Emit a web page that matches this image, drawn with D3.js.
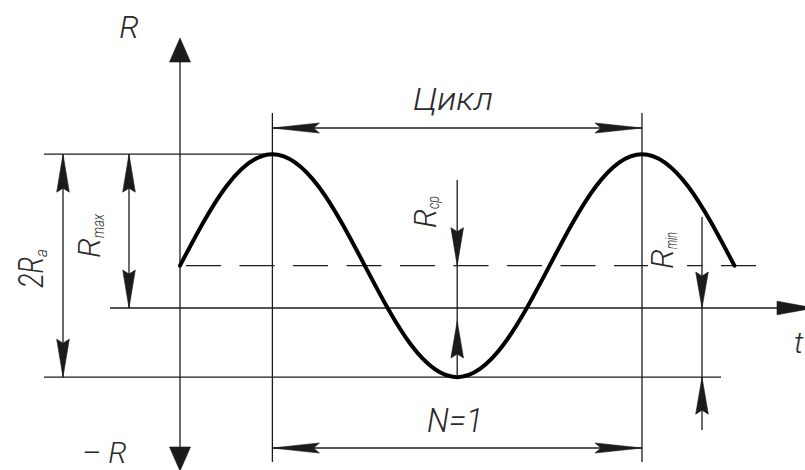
<!DOCTYPE html>
<html>
<head>
<meta charset="utf-8">
<script src="https://cdn.jsdelivr.net/npm/d3@7"></script>
<style>
  body { margin: 0; background: #fff; }
  svg { display: block; }
</style>
</head>
<body>
<script>
// Stress cycle: phase in quarter periods and stress values in units of R_a
const phases = [0, 0.5, 1, 1.5, 2, 2.5, 3, 3.5, 4, 4.5, 5, 5.5, 6];
const stress = [0.38, 1.09, 1.38, 1.09, 0.38, -0.33, -0.62, -0.33, 0.38, 1.09, 1.38, 1.09, 0.38];

// Characteristic levels of the cycle
const levelNames = ["Rmax", "Rcp", "Rmin"];
const levelValues = [1.38, 0.38, -0.62];

// Text drawn on the chart
const axisLabels = ["R", "\u2013 R", "t"];
const cycleLabel = "Цикл";
const countLabel = "N=1";

const W = 805, H = 470;
const svg = d3.select("body").append("svg").attr("width", W).attr("height", H);

const x = d3.scaleLinear().domain([0, 6]).range([180, 734.4]);
const y = d3.scaleLinear().domain([0, 1]).range([308, 196.5]);

const lv = Object.fromEntries(levelNames.map((n, i) => [n, levelValues[i]]));
const y0 = y(0), yMax = y(lv.Rmax), yMean = y(lv.Rcp), yMin = y(lv.Rmin);
const xAxis = x(0), xPeak1 = x(1), xTrough = x(3), xPeak2 = x(5);

const ink = "#1b1b1b";
const thin = 1.3;
const g = svg.append("g");

function line(x1, y1, x2, y2, extra) {
  const l = g.append("line").attr("x1", x1).attr("y1", y1).attr("x2", x2).attr("y2", y2)
    .attr("stroke", ink).attr("stroke-width", thin);
  if (extra) extra(l);
  return l;
}

// Dimension arrowhead: long dart with a shallow notch, tip at (tx,ty), pointing along (dx,dy)
function dart(tx, ty, dx, dy, L, hw, notch) {
  const px = -dy, py = dx;
  const bx = tx - dx * L, by = ty - dy * L;
  const nx = tx - dx * (L - notch), ny = ty - dy * (L - notch);
  const p = d3.path();
  p.moveTo(tx, ty);
  p.lineTo(bx + px * hw, by + py * hw);
  p.lineTo(nx, ny);
  p.lineTo(bx - px * hw, by - py * hw);
  p.closePath();
  g.append("path").attr("d", p.toString()).attr("fill", ink).attr("stroke", ink).attr("stroke-width", 0.6);
}

// Solid triangular arrowhead for the coordinate axes
function tri(tx, ty, dx, dy, L, hw) {
  dart(tx, ty, dx, dy, L, hw, 0);
}

// Coordinate axes
line(xAxis, 55, xAxis, 455);
tri(xAxis, 38, 0, -1, 24, 10.5);
tri(xAxis, 471, 0, 1, 24, 10.5);
line(110, y0, 790, y0);
tri(814, y0, 1, 0, 37, 6.8);

// Extension lines
line(44, yMax, xPeak1, yMax);
line(44, yMin, 721, yMin);
line(xPeak1, 113, xPeak1, 462);
line(xPeak2, 113, xPeak2, 462);

// Mean level (dashed)
line(xAxis, yMean, 762, yMean, l => l.attr("stroke-dasharray", "35,18.5").attr("stroke-dashoffset", 47.5));

// Clear space on the dashed line under the R_min label
g.append("rect").attr("x", 648).attr("y", yMean - 4).attr("width", 39).attr("height", 8).attr("fill", "#fff");

// 2R_a dimension
line(63, yMax, 63, yMin);
dart(63, yMax, 0, -1, 38, 6.3, 4);
dart(63, yMin, 0, 1, 38, 6.3, 4);

// R_max dimension
line(129, yMax, 129, y0);
dart(129, yMax, 0, -1, 38, 6.3, 4);
dart(129, y0, 0, 1, 38, 6.3, 4);

// Cycle dimension
const yCycle = 128;
line(xPeak1, yCycle, xPeak2, yCycle);
dart(xPeak1, yCycle, -1, 0, 47, 5, 6);
dart(xPeak2, yCycle, 1, 0, 47, 5, 6);

// N=1 dimension
const yCount = 448;
line(xPeak1, yCount, xPeak2, yCount);
dart(xPeak1, yCount, -1, 0, 47, 5, 6);
dart(xPeak2, yCount, 1, 0, 47, 5, 6);

// R_cp dimension
line(xTrough, 180, xTrough, yMin);
dart(xTrough, yMean, 0, 1, 38, 6.3, 4);
dart(xTrough, 321, 0, -1, 37, 6.3, 4);

// R_min dimension
const xRmin = 702;
line(xRmin, 217, xRmin, 430);
dart(xRmin, y0, 0, 1, 36, 6.3, 4);
dart(xRmin, yMin, 0, -1, 37, 6.3, 4);

// Stress curve
const pts = phases.map((p, i) => [p, stress[i]]);
g.append("path")
  .attr("d", d3.line().x(d => x(d[0])).y(d => y(d[1])).curve(d3.curveNatural)(pts))
  .attr("fill", "none").attr("stroke", "#000").attr("stroke-width", 4)
  .attr("stroke-linecap", "round");

// Labels
const fontMain = "Roboto, 'Liberation Sans', Arial, sans-serif";
const fontNarrow = "Roboto, 'Liberation Sans', Arial, sans-serif";
const txtColor = "#2a2a2a";

function text(tx, ty, s, size, family, anchor) {
  return svg.append("text").attr("x", tx).attr("y", ty).text(s)
    .attr("font-family", family).attr("font-size", size).attr("font-style", "italic")
    .attr("font-weight", 300)
    .attr("fill", txtColor).attr("text-anchor", anchor || "start");
}

text(129, 38, axisLabels[0], 32, fontMain, "middle");
text(82, 463, axisLabels[1], 30, fontMain, "start");
text(794, 353, axisLabels[2], 30, fontMain, "start");

text(453, 110, cycleLabel, 31, fontNarrow, "middle").attr("textLength", 80).attr("lengthAdjust", "spacingAndGlyphs");
text(455, 432, countLabel, 34, fontNarrow, "middle").attr("textLength", 56).attr("lengthAdjust", "spacingAndGlyphs");

// Rotated labels: main letters plus subscript
function vlabel(bx, by, main, sub, size, subSize, shift, mainLen, subLen) {
  const t = svg.append("text").attr("transform", `translate(${bx},${by}) rotate(-90)`)
    .attr("font-family", fontNarrow).attr("font-size", size).attr("font-style", "italic")
    .attr("font-weight", 300).attr("fill", txtColor);
  t.append("tspan").text(main).attr("textLength", mainLen).attr("lengthAdjust", "spacingAndGlyphs");
  t.append("tspan").text(sub).attr("font-size", subSize).attr("dy", shift)
    .attr("textLength", subLen).attr("lengthAdjust", "spacingAndGlyphs");
  return t;
}

vlabel(43, 288, "2R", "a", 35, 17, 4, 31, 8);
vlabel(100, 258, "R", "max", 32, 17, 4, 20, 24);
vlabel(436, 228, "R", "cp", 32, 17, 3, 19, 13);
vlabel(673, 269, "R", "min", 32, 17, 4, 20, 17);
</script>
</body>
</html>
